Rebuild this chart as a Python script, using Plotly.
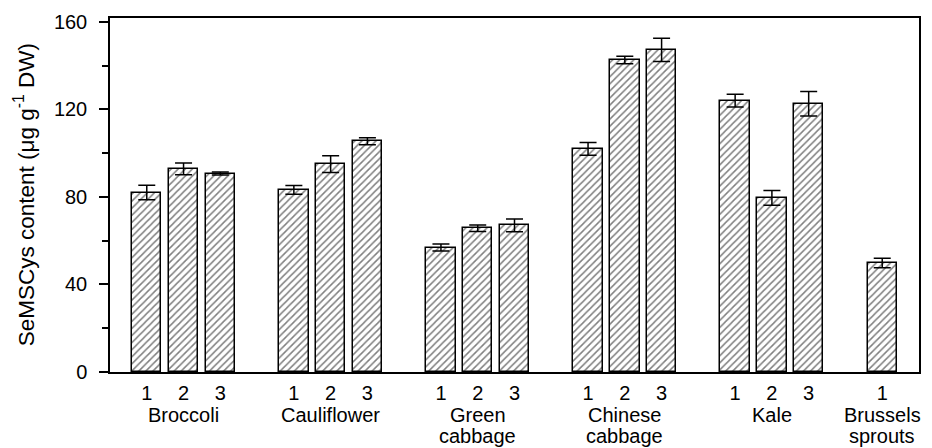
import plotly.graph_objects as go

# SeMSCys content per cultivar within each vegetable group
groups = [["Broccoli"], ["Cauliflower"], ["Green", "cabbage"], ["Chinese", "cabbage"],
          ["Kale"], ["Brussels", "sprouts"]]
cultivar_labels = [["1", "2", "3"], ["1", "2", "3"], ["1", "2", "3"],
                   ["1", "2", "3"], ["1", "2", "3"], ["1"]]

broccoli = [82.0, 92.8, 90.7]
cauliflower = [83.2, 95.0, 105.5]
green_cabbage = [56.9, 65.7, 67.0]
chinese_cabbage = [102.0, 142.6, 147.2]
kale = [124.0, 79.6, 122.6]
brussels_sprouts = [49.8]

broccoli_se = [3.3, 2.7, 0.7]
cauliflower_se = [2.0, 3.8, 1.6]
green_cabbage_se = [1.6, 1.5, 2.9]
chinese_cabbage_se = [2.9, 1.7, 5.3]
kale_se = [2.9, 3.4, 5.6]
brussels_sprouts_se = [2.2]

y_ticks = [0, 40, 80, 120, 160]

values = [broccoli, cauliflower, green_cabbage, chinese_cabbage, kale, brussels_sprouts]
errors = [broccoli_se, cauliflower_se, green_cabbage_se, chinese_cabbage_se, kale_se, brussels_sprouts_se]

# each group takes four slots: three bars plus one empty gap slot
xs, ys, es, tick_text = [], [], [], []
group_centres = []
for gi, (vals, errs, labs) in enumerate(zip(values, errors, cultivar_labels)):
    base = gi * 4
    for bi, (v, e, lab) in enumerate(zip(vals, errs, labs)):
        xs.append(base + bi)
        ys.append(v)
        es.append(e)
        tick_text.append(lab)
    group_centres.append(base + (len(vals) - 1) / 2)

FONT = "Liberation Sans, Arial, sans-serif"

fig = go.Figure()
fig.add_trace(go.Bar(
    x=xs, y=ys, width=0.8,
    marker=dict(
        color="white",
        line=dict(color="black", width=1.5),
        pattern=dict(shape="/", size=5, solidity=0.3, fgcolor="black", bgcolor="white"),
    ),
    error_y=dict(type="data", array=es, visible=True, color="black", thickness=1.5, width=8.5),
    showlegend=False,
))

# group names below the cultivar numbers, one annotation per text line
for xc, lines in zip(group_centres, groups):
    for li, line in enumerate(lines):
        fig.add_annotation(
            x=xc, y=0, xref="x", yref="paper", text=line, showarrow=False,
            yanchor="top", yshift=-30 - 21 * li,
            font=dict(family=FONT, size=20, color="black"),
        )

fig.add_annotation(
    x=-0.106, y=0.5, xref="paper", yref="paper", xanchor="center", yanchor="middle",
    text="SeMSCys content (μg g<sup>-1</sup> DW)", textangle=-90, showarrow=False,
    font=dict(family=FONT, size=22.5, color="black"),
)

fig.update_layout(
    width=932, height=448,
    margin=dict(l=110, r=11, t=15, b=76),
    plot_bgcolor="white", paper_bgcolor="white",
    bargap=0,
    font=dict(family=FONT, color="black"),
)
fig.update_xaxes(
    range=[-1, 21], tickvals=xs, ticktext=tick_text, ticks="",
    ticklabelstandoff=2,
    showline=True, linecolor="black", linewidth=1.5, mirror=True,
    showgrid=False, zeroline=False,
    tickfont=dict(family=FONT, size=20, color="black"),
)
fig.update_yaxes(
    range=[0, 161.8], tickvals=y_ticks, ticks="outside", ticklen=9, tickwidth=1.5,
    tickcolor="black", ticklabelstandoff=8,
    minor=dict(tickvals=[20, 60, 100, 140], ticks="outside", ticklen=6, tickwidth=1.5, tickcolor="black"),
    showline=True, linecolor="black", linewidth=1.5, mirror=True,
    showgrid=False, zeroline=False,
    tickfont=dict(family=FONT, size=20, color="black"),
)

fig.write_html("out.html")
